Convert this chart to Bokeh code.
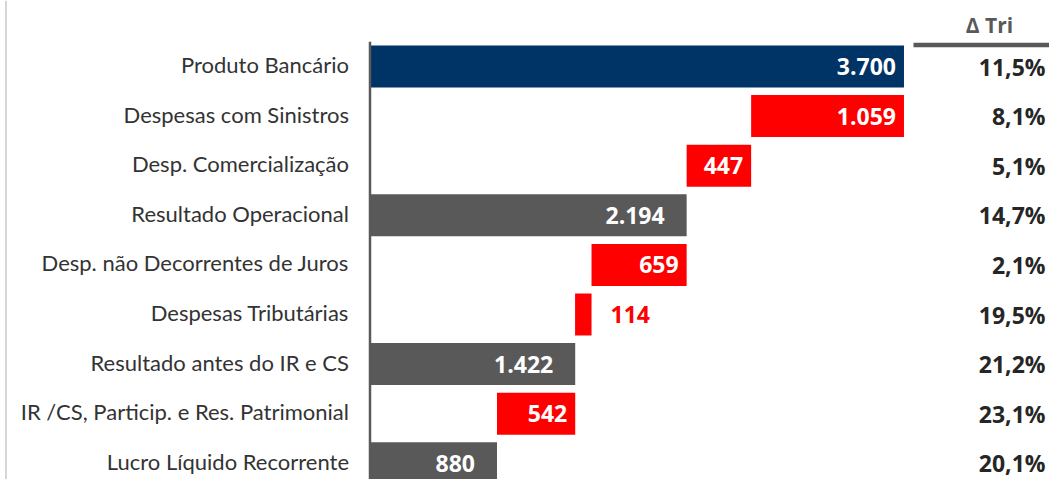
from bokeh.plotting import figure
from bokeh.models import Range1d, ColumnDataSource
from bokeh.embed import file_html
from bokeh.resources import INLINE
from bokeh.core.properties import value

# ---- data ----
categories = [
    "Produto Bancário",
    "Despesas com Sinistros",
    "Desp. Comercialização",
    "Resultado Operacional",
    "Desp. não Decorrentes de Juros",
    "Despesas Tributárias",
    "Resultado antes do IR e CS",
    "IR /CS, Particip. e Res. Patrimonial",
    "Lucro Líquido Recorrente",
]
amounts = [3700, 1059, 447, 2194, 659, 114, 1422, 542, 880]
kinds = ["base", "neg", "neg", "total", "neg", "neg", "total", "neg", "total"]
changes = ["11,5%", "8,1%", "5,1%", "14,7%", "2,1%", "19,5%", "21,2%", "23,1%", "20,1%"]
header = "Δ Tri"

# ---- styles ----
COLORS = {"base": "#003366", "neg": "#FF0000", "total": "#595959"}
W, H = 1049, 479
PX_PER_UNIT = 0.14432
ZERO_PX = 369.5
ROW_PX = 49.6
FIRST_ROW_PX = 66

# waterfall geometry from data
lefts, rights = [], []
running = 0
for a, k in zip(amounts, kinds):
    if k in ("base", "total"):
        lefts.append(0)
        rights.append(a)
        running = a
    else:
        lefts.append(running - a)
        rights.append(running)
        running -= a

ys = list(range(len(categories)))
labels = [f"{a:,}".replace(",", ".") for a in amounts]
small = [a < 200 for a in amounts]

x_start = -ZERO_PX / PX_PER_UNIT
x_end = (W - ZERO_PX) / PX_PER_UNIT
y_top = -FIRST_ROW_PX / ROW_PX
y_bottom = (H - FIRST_ROW_PX) / ROW_PX

p = figure(width=W, height=H, output_backend="svg", toolbar_location=None,
           x_range=Range1d(x_start, x_end), y_range=Range1d(y_bottom, y_top),
           min_border=0, min_border_left=0, min_border_right=0,
           min_border_top=0, min_border_bottom=0)
p.axis.visible = False
p.grid.visible = False
p.outline_line_color = None
p.background_fill_color = "white"

src = ColumnDataSource(dict(
    y=ys, left=lefts, right=rights,
    color=[COLORS[k] for k in kinds],
    cat=categories, change=changes,
))
p.hbar(y="y", left="left", right="right", height=42 / ROW_PX,
       color="color", line_color=None, source=src)

# axis line at zero
p.segment(x0=[0], x1=[0], y0=[-0.5], y1=[y_bottom], line_color="#595959", line_width=2.5)
# light frame line at left edge
p.segment(x0=[x_start + 5.5 / PX_PER_UNIT], x1=[x_start + 5.5 / PX_PER_UNIT],
          y0=[y_top], y1=[y_bottom], line_color="#c8c8c8", line_width=1.5)

# category labels
p.text(x=0, y="y", text="cat", source=src, x_offset=-21, y_offset=-2,
       text_align="right", text_baseline="middle",
       text_font=value("Lato"), text_font_size="22px", text_color="#333333")

# value labels inside bars
in_y, in_x, in_t, in_off = [], [], [], []
out_y, out_x, out_t = [], [], []
for y, r, lab, k, s in zip(ys, rights, labels, kinds, small):
    if s:
        out_y.append(y); out_x.append(r); out_t.append(lab)
    else:
        in_y.append(y); in_x.append(r); in_t.append(lab)
        in_off.append(-22 if k == "total" else -8)
p.text(x=in_x, y=in_y, text=in_t, x_offset=in_off,
       text_align="right", text_baseline="middle",
       text_font=value("Open Sans"), text_font_style="bold",
       text_font_size="23px", text_color="white")
p.text(x=out_x, y=out_y, text=out_t, x_offset=19,
       text_align="left", text_baseline="middle",
       text_font=value("Open Sans"), text_font_style="bold",
       text_font_size="23px", text_color="#FF0000")

# change column
PCT_X = (1045 - ZERO_PX) / PX_PER_UNIT
p.text(x=PCT_X, y="y", text="change", source=src,
       text_align="right", text_baseline="middle",
       text_font=value("Open Sans"), text_font_style="bold",
       text_font_size="23px", text_color="#262626")

# header
HDR_X = (989 - ZERO_PX) / PX_PER_UNIT
p.text(x=[HDR_X], y=[(24 - FIRST_ROW_PX) / ROW_PX], text=[header],
       text_align="center", text_baseline="middle",
       text_font=value("Open Sans"), text_font_style="bold",
       text_font_size="21px", text_color="#595959")
p.segment(x0=[(913 - ZERO_PX) / PX_PER_UNIT], x1=[x_end],
          y0=[(44.5 - FIRST_ROW_PX) / ROW_PX], y1=[(44.5 - FIRST_ROW_PX) / ROW_PX],
          line_color="#595959", line_width=4.5)

open("out.html", "w").write(file_html(p, INLINE))
